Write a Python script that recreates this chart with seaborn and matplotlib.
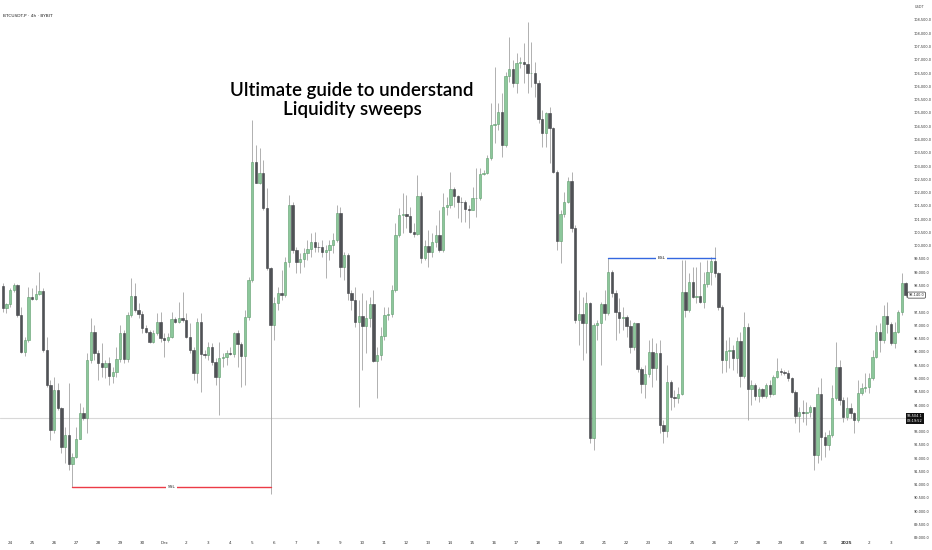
import numpy as np
import pandas as pd
import seaborn as sns
import matplotlib
matplotlib.use("Agg")
import matplotlib.pyplot as plt
import matplotlib.transforms as mtransforms

# BTCUSDT.P 4h candles (Bybit), Nov 23 -> Jan 3
first_open = 98483
close = [
    97642, 97792, 98332, 98520, 97391, 96010, 96450, 98081, 98006, 98181,
    98307, 96073, 94755, 93061, 94567, 93877, 92434, 92873, 91781, 92057,
    92710, 93689, 93500, 95697, 96738, 95948, 95571, 95420, 95571, 95094,
    95257, 95722, 96701, 95722, 97391, 98119, 97579, 97416, 96889, 96763,
    96387, 96726, 97115, 96512, 96450, 96575, 97228, 97140, 97265, 97203,
    96575, 96073, 95220, 97140, 95922, 95885, 96173, 95634, 95069, 95759,
    95797, 95948, 95922, 96701, 96299, 95847, 97328, 98709, 103165, 102375,
    102726, 101408, 99149, 97014, 97830, 98206, 98144, 99400, 101534, 99840,
    99400, 99488, 99714, 99865, 100153, 99965, 99940, 99777, 99840, 100028,
    100216, 101220, 99212, 99651, 98208, 97957, 97141, 97367, 96978, 97267,
    97807, 95673, 95886, 96602, 97392, 97417, 98334, 100404, 101157, 101195,
    101120, 100530, 100429, 101873, 99526, 99990, 99777, 100153, 100404, 99839,
    101471, 101534, 102124, 101885, 101659, 101634, 101371, 101346, 101784, 101809,
    102700, 102751, 103290, 104546, 104584, 105048, 103793, 106391, 106642, 106140,
    106893, 106906, 106843, 106491, 106517, 106115, 104760, 104258, 104985, 104421,
    102789, 100192, 101196, 101660, 102450, 100656, 97204, 97430, 97103, 97831,
    92748, 97015, 97078, 97793, 97479, 99023, 98232, 97517, 97266, 97303,
    96977, 96199, 97077, 95346, 94793, 95170, 96011, 95383, 95948, 93250,
    93037, 94881, 94317, 94254, 94417, 98270, 97580, 98646, 98081, 98107,
    97893, 98559, 99023, 99437, 98985, 97705, 95697, 96035, 96073, 95784,
    96424, 95094, 96951, 94592, 94755, 94341, 94592, 94341, 94755, 94416,
    95044, 95295, 95257, 95220, 95006, 94504, 93588, 93751, 93714, 93739,
    93914, 92120, 94416, 92810, 92496, 92873, 94253, 95420, 94190, 93563,
    93877, 93688, 93437, 94442, 94630, 94680, 95006, 95822, 96763, 96450,
    97353, 97052, 96324, 96763, 97516, 98583, 98140]
high = [
    98583, 97830, 98395, 98583, 98558, 97705, 96575, 98458, 98395, 98520,
    99022, 98395, 96575, 94944, 95069, 94818, 93940, 93187, 94818, 92183,
    93187, 94065, 93940, 95948, 97265, 97014, 96073, 96324, 95697, 95822,
    95446, 96199, 97014, 96826, 97516, 98771, 98583, 97830, 97554, 97014,
    96826, 96826, 97454, 97516, 96701, 96701, 97516, 97328, 97893, 98269,
    97454, 97077, 96199, 97265, 97454, 96073, 96387, 96324, 95759, 96387,
    95948, 96073, 96199, 96763, 96826, 96387, 97579, 98834, 104734, 103793,
    103667, 103228, 102161, 99200, 98081, 98458, 99085, 99589, 101910, 101659,
    99965, 99714, 99902, 100216, 100467, 100530, 100153, 100216, 100028, 100216,
    100467, 101534, 101471, 99777, 99714, 98334, 98459, 97957, 98208, 97957,
    98083, 98334, 96200, 96953, 97706, 97706, 98522, 100844, 101408, 101973,
    101910, 101471, 100844, 102663, 102036, 100216, 100593, 100467, 100781, 101346,
    101973, 101848, 102789, 102224, 101910, 101848, 101722, 101534, 102224, 102914,
    102914, 102851, 103417, 105362, 106742, 105362, 105739, 106554, 107872, 106994,
    107245, 107119, 107621, 108437, 107684, 106931, 106241, 105111, 105048, 105237,
    104484, 102852, 101346, 102036, 102601, 102789, 100780, 98333, 98082, 98270,
    97894, 97078, 97203, 97893, 98333, 99525, 99086, 98333, 98019, 97705,
    97391, 97203, 97140, 97103, 95446, 95509, 96450, 96513, 96325, 96450,
    93438, 95509, 94944, 94567, 94693, 99462, 99462, 98960, 99211, 99211,
    99399, 99023, 99462, 99588, 99964, 99023, 97768, 96450, 96575, 96261,
    96575, 96763, 97516, 97077, 94944, 94818, 94693, 94630, 94818, 94944,
    95132, 95759, 95383, 95320, 95320, 95044, 94567, 93940, 94190, 94128,
    94002, 93940, 94692, 95006, 92998, 93061, 94755, 96387, 95697, 94316,
    94316, 94065, 93751, 94944, 94818, 95195, 95195, 96073, 97014, 97077,
    97767, 97893, 97140, 97140, 97579, 98960, 98650]
low = [
    97516, 97454, 97705, 98269, 97328, 95948, 95847, 96387, 97956, 97956,
    98144, 96010, 94693, 92685, 92936, 93814, 92183, 91806, 91555, 90903,
    91994, 92936, 93438, 92936, 95571, 95697, 94944, 95069, 95006, 94755,
    94818, 95069, 95634, 95571, 95634, 97328, 97516, 97265, 96701, 96701,
    96324, 96324, 96638, 96387, 95822, 96387, 96512, 97102, 97077, 97140,
    96512, 95948, 94944, 94818, 94504, 95759, 95697, 95508, 94755, 93626,
    95446, 95508, 95885, 95822, 95446, 94693, 94755, 97203, 98647, 102350,
    102325, 101345, 99087, 90650, 96450, 97579, 97956, 98050, 99212, 99714,
    98961, 98961, 99212, 99463, 99589, 99777, 99777, 99589, 98800, 99463,
    99714, 100153, 98836, 98710, 97957, 97580, 96953, 93941, 95322, 95949,
    96953, 95635, 94255, 95698, 96451, 97204, 97330, 98271, 100342, 100467,
    100655, 100467, 100342, 100404, 99337, 99463, 99212, 99589, 99965, 99777,
    99777, 101157, 101408, 101471, 101032, 100906, 100906, 100655, 101345, 101094,
    101722, 102663, 102700, 103228, 103856, 104358, 103354, 103731, 106178, 105990,
    105739, 106680, 106115, 105739, 105990, 105613, 104609, 103731, 103731, 103103,
    102727, 99840, 99338, 101095, 101597, 100530, 97078, 96262, 95697, 95948,
    92560, 92309, 96450, 95500, 97203, 97391, 98082, 96450, 96701, 96827,
    96575, 95948, 96074, 95258, 94442, 94254, 95070, 94693, 94944, 92936,
    92560, 92811, 93815, 93940, 94065, 94379, 97328, 97517, 98019, 97831,
    97831, 97642, 98458, 98521, 98835, 97580, 95195, 95257, 95383, 95320,
    95195, 94693, 95006, 93437, 94002, 94190, 94128, 94253, 94253, 94316,
    94379, 95006, 95132, 95132, 94918, 94441, 93312, 92998, 93375, 93249,
    93563, 91555, 91806, 91931, 92057, 92308, 92810, 94190, 94002, 93375,
    93437, 93500, 92936, 93375, 94379, 94504, 94441, 94944, 95759, 96010,
    96324, 96700, 96261, 96136, 96700, 97400, 98050]

# day labels on the time axis (one every 6 candles)
day_labels = ["24", "25", "26", "27", "28", "29", "30", "Dec"] + \
    [str(d) for d in range(2, 32)] + ["2025", "2", "3"]

# liquidity levels: price, first candle, last candle
ssl_price, ssl_from, ssl_to = 90903, 19, 73
bsl_price, bsl_from, bsl_to = 99525, 165, 194
last_line = 93504.1
last_close_label = 98140.0

df = pd.DataFrame({"close": close, "high": high, "low": low})
df["open"] = [first_open] + close[:-1]
df["i"] = np.arange(len(df))
df["high"] = df[["high", "open", "close"]].max(axis=1)
df["low"] = df[["low", "open", "close"]].min(axis=1)
df["up"] = df["close"] >= df["open"]

sns.set_style("white")
plt.rcParams["font.family"] = ["DejaVu Sans"]

fig = plt.figure(figsize=(9.32, 5.5), dpi=100)
ax = fig.add_axes([0, 0, 910 / 932, 1])

green, green_edge = "#8cc79b", "#5e9c6c"
dark, dark_edge = "#505256", "#404246"

ax.vlines(df["i"], df["low"], df["high"], color="#a3a3a3", lw=0.6, zorder=1)
body_bottom = df[["open", "close"]].min(axis=1)
body_height = (df["close"] - df["open"]).abs().clip(lower=25)
ax.bar(df["i"], body_height, bottom=body_bottom, width=0.64,
       color=np.where(df["up"], green, dark),
       edgecolor=np.where(df["up"], green_edge, dark_edge),
       linewidth=0.4, zorder=2)

ax.axhline(last_line, color="#d8d8d8", lw=0.8, zorder=0)

# SSL / BSL levels
sns.lineplot(x=[ssl_from, ssl_to], y=[ssl_price, ssl_price], color="#ec3b47",
             lw=1.0, ax=ax, zorder=3)
sns.lineplot(x=[bsl_from, bsl_to], y=[bsl_price, bsl_price], color="#3468e0",
             lw=1.0, ax=ax, zorder=3)
for lab, p, a, b in [("SSL", ssl_price, ssl_from, ssl_to),
                     ("BSL", bsl_price, bsl_from, bsl_to)]:
    ax.text((a + b) / 2, p, lab, fontsize=3.2, ha="center", va="center",
            color="#222222", zorder=4,
            bbox=dict(boxstyle="square,pad=0.3", fc="white", ec="none"))

ax.set_xlim(-0.74, 247.2)
ax.set_ylim(88540, 109253)

# price scale; 93,500 and 98,000 sit under the price boxes
yt = np.arange(89000, 109000, 500)
ax.set_yticks(yt)
ax.set_yticklabels(["" if v in (93500, 98000) else f"{v:,.1f}" for v in yt])
ax.yaxis.tick_right()
ax.tick_params(axis="y", length=0, labelsize=2.5, pad=2.5, labelcolor="#333333")

xt = [2 + 6 * d for d in range(len(day_labels))]
ax.set_xticks(xt)
ax.set_xticklabels(day_labels)
ax.tick_params(axis="x", length=0, labelsize=3.0, pad=-6.5, labelcolor="#333333")
for t in ax.get_xticklabels():
    if t.get_text() == "2025":
        t.set_fontweight("bold")

for s in ax.spines.values():
    s.set_visible(False)

# price labels on the scale
trans = mtransforms.blended_transform_factory(ax.transAxes, ax.transData)
ax.text(0.9965, last_line, f"{last_line:,.1f}\n03:19:52", transform=trans,
        fontsize=2.5, color="white", ha="left", va="center", linespacing=1.3,
        bbox=dict(boxstyle="square,pad=0.35", fc="#111111", ec="none"),
        clip_on=False, zorder=5)
ax.text(0.9985, last_close_label, f"{last_close_label:,.1f}", transform=trans,
        fontsize=2.5, color="#222222", ha="left", va="center",
        bbox=dict(boxstyle="round,pad=0.3", fc="white", ec="#333333", lw=0.5),
        clip_on=False, zorder=5)

fig.text(3 / 932, 1 - 16 / 550, "BTCUSDT.P · 4h · BYBIT", fontsize=3.2,
         color="#222222", ha="left", va="center")
fig.text(915 / 932, 1 - 7 / 550, "USDT", fontsize=2.5, color="#444444",
         ha="left", va="center")

fig.text(352 / 932, 1 - 100 / 550, "Ultimate guide to understand\nLiquidity sweeps",
         fontsize=13.5, ha="center", va="center", color="#000000",
         fontweight="semibold", linespacing=1.1, family=["Lato", "DejaVu Sans"])

fig.savefig("out.png", dpi=100, facecolor="white")
